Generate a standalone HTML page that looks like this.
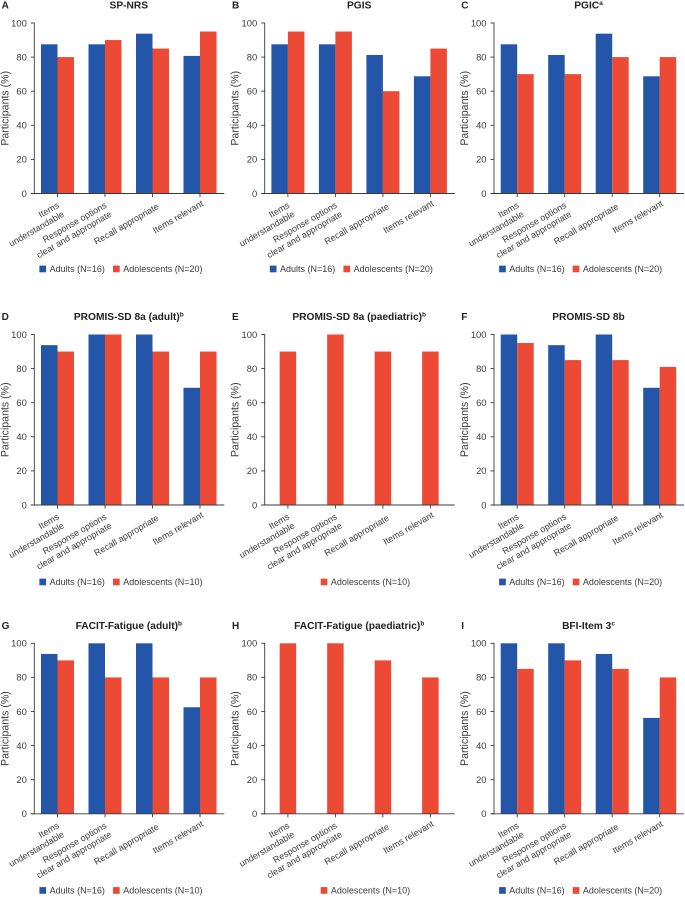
<!DOCTYPE html>
<html lang="en">
<head>
<meta charset="utf-8">
<title>Participants' ratings by instrument</title>
<style>
html,body{margin:0;padding:0;background:#fff;}
svg{display:block;font-family:"Liberation Sans",Arial,sans-serif;}
</style>
</head>
<body>
<svg id="chart" width="685" height="897" viewBox="0 0 685 897" xmlns="http://www.w3.org/2000/svg"></svg>
<script>
const categories = [["Items","understandable"],["Response options","clear and appropriate"],["Recall appropriate"],["Items relevant"]];
const yTicks = [0,20,40,60,80,100];
const panelLetters = ["A","B","C","D","E","F","G","H","I"];
const panelTitles = ["SP-NRS","PGIS","PGIC","PROMIS-SD 8a (adult)","PROMIS-SD 8a (paediatric)","PROMIS-SD 8b","FACIT-Fatigue (adult)","FACIT-Fatigue (paediatric)","BFI-Item 3"];
const panelNotes = ["","","a","b","b","","b","b","c"];
const adultsN = [16,16,16,16,null,16,16,null,16];
const adolescentsN = [20,20,20,10,10,20,10,10,20];
const adultsA = [87.5,87.5,93.75,80.7];
const adolescentsA = [80,90,85,95];
const adultsB = [87.5,87.5,81.25,68.75];
const adolescentsB = [95,95,60,85];
const adultsC = [87.5,81.25,93.75,68.75];
const adolescentsC = [70,70,80,80];
const adultsD = [93.75,100,100,68.75];
const adolescentsD = [90,100,90,90];
const adultsE = null;
const adolescentsE = [90,100,90,90];
const adultsF = [100,93.75,100,68.75];
const adolescentsF = [95,85,85,81];
const adultsG = [93.75,100,100,62.5];
const adolescentsG = [90,80,80,80];
const adultsH = null;
const adolescentsH = [100,100,90,80];
const adultsI = [100,100,93.75,56.25];
const adolescentsI = [85,90,85,80];
const adultsSeries = [adultsA,adultsB,adultsC,adultsD,adultsE,adultsF,adultsG,adultsH,adultsI];
const adolescentsSeries = [adolescentsA,adolescentsB,adolescentsC,adolescentsD,adolescentsE,adolescentsF,adolescentsG,adolescentsH,adolescentsI];

const svg = document.getElementById('chart');
const NS = 'http://www.w3.org/2000/svg';
const BLUE = '#2356a8', RED = '#ec4a35', INK = '#3a3a3a';
const PLOT_H = 170.5, BAR_W = 16.5;
const STEP = 47.5, FIRST = 23.2;

function panelLeft(col){ return col === 0 ? 34.3 : col === 1 ? 264.7 : 494; }
function panelTop(row){ return row === 0 ? 23 : row === 1 ? 334.5 : 643.3; }
function legendY(row){ return row === 0 ? 269 : row === 1 ? 582 : 890.5; }
function labelDx(i){ return i === 2 ? 7 : i === 3 ? 4 : 2.3; }
function labelDy(i){ return i === 2 ? 14.8 : i === 3 ? 11.8 : 13.5; }
function make(tag, attrs, parent){
  const el = document.createElementNS(NS, tag);
  for (const k in attrs) el.setAttribute(k, attrs[k]);
  parent.appendChild(el);
  return el;
}
function xScale(i, left){ return left + FIRST + STEP * i; }
function yScale(v, top){ return top + PLOT_H * (1 - v / 100); }

function drawBars(values, name, color, offset, left, top, g){
  values.forEach(function(v, i){
    const y = yScale(v, top);
    const bar = make('rect', {x: xScale(i, left) + offset, y: y, width: BAR_W, height: top + PLOT_H - y, fill: color}, g);
    
    
  });
}

function legendEntry(g, x, y, color, label, name){
  const sw = make('rect', {x: x, y: y - 3.4, width: 6.7, height: 6.7, fill: color}, g);
  
  
  const t = make('text', {x: x + 10.2, y: y + 3.1, 'font-size': 9, fill: INK}, g);
  
  
  t.textContent = label;
}

panelTitles.forEach(function(title, p){
  const col = p % 3, row = Math.floor(p / 3);
  const left = panelLeft(col), top = panelTop(row);
  const adults = adultsSeries[p], adolescents = adolescentsSeries[p];
  const g = make('g', {}, svg);
  
  

  const letter = make('text', {x: left - 32.7, y: top - 14.5, 'font-size': 10, 'font-weight': 'bold', fill: '#222'}, g);
  
  
  letter.textContent = panelLetters[p];

  const titleEl = make('text', {x: left + 94.5, y: top - 14.5, 'font-size': 10.2, 'font-weight': 'bold', fill: '#222', 'text-anchor': 'middle'}, g);
  
  
  titleEl.appendChild(document.createTextNode(title));
  if (panelNotes[p]) {
    const sup = make('tspan', {'font-size': 6.5, dy: -3.5}, titleEl);
    sup.textContent = panelNotes[p];
  }

  const yTitle = make('text', {transform: 'translate(' + (left - 26) + ',' + (top + PLOT_H / 2) + ') rotate(-90)', 'font-size': 10.6, fill: INK, 'text-anchor': 'middle'}, g);
  
  
  yTitle.textContent = 'Participants (%)';

  if (adults) {
    drawBars(adults, 'adults', BLUE, -BAR_W, left, top, g);
    drawBars(adolescents, 'adolescents', RED, 0, left, top, g);
  } else {
    drawBars(adolescents, 'adolescents', RED, -BAR_W / 2, left, top, g);
  }

  const yAxis = make('line', {x1: left, x2: left, y1: top - 0.4, y2: top + PLOT_H + 0.4, stroke: INK, 'stroke-width': 0.9}, g);
  
  
  const xAxis = make('line', {x1: left - 3.5, x2: left + 190, y1: top + PLOT_H, y2: top + PLOT_H, stroke: INK, 'stroke-width': 0.9}, g);
  
  

  yTicks.forEach(function(v){
    const y = yScale(v, top);
    const tick = make('line', {x1: left - 3.5, x2: left, y1: y, y2: y, stroke: INK, 'stroke-width': 0.9}, g);
    
    
    const lab = make('text', {x: left - 7.5, y: y + 3.3, 'font-size': 9.4, fill: INK, 'text-anchor': 'end'}, g);
    
    
    lab.textContent = v;
  });

  categories.forEach(function(lines, i){
    const x = xScale(i, left), y0 = top + PLOT_H;
    const tick = make('line', {x1: x, x2: x, y1: y0, y2: y0 + 3.5, stroke: INK, 'stroke-width': 0.9}, g);
    
    
    const lg = make('g', {transform: 'translate(' + (x + labelDx(i)) + ',' + (y0 + labelDy(i)) + ') rotate(-30)'}, g);
    
    
    lines.forEach(function(line, j){
      const t = make('text', {x: 0, y: j * 10.2, 'font-size': 9, fill: INK, 'text-anchor': 'end'}, lg);
      t.textContent = line;
    });
  });

  const ly = legendY(row);
  if (adults) {
    legendEntry(g, left + 5.1, ly, BLUE, 'Adults (N=' + adultsN[p] + ')', 'adults');
    legendEntry(g, left + 78.7, ly, RED, 'Adolescents (N=' + adolescentsN[p] + ')', 'adolescents');
  } else {
    legendEntry(g, left + 56, ly, RED, 'Adolescents (N=' + adolescentsN[p] + ')', 'adolescents');
  }
});
</script>
</body>
</html>
